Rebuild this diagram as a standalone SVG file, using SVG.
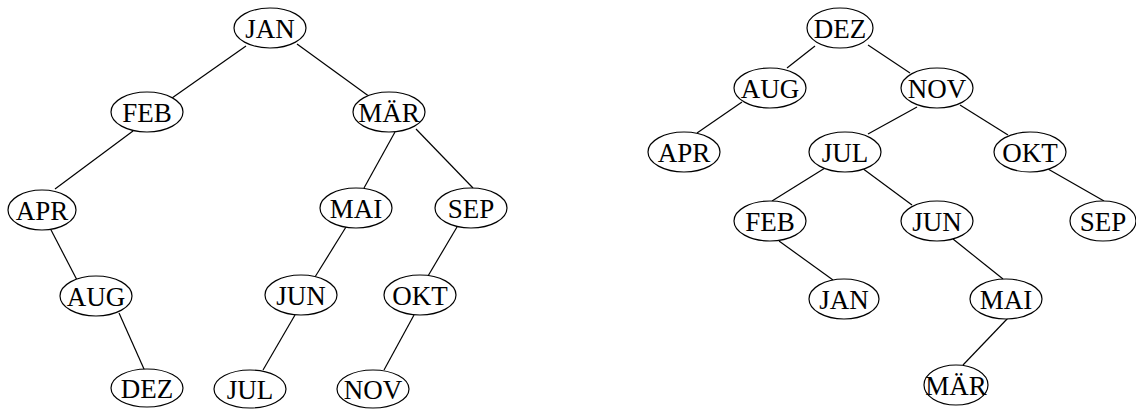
<svg xmlns="http://www.w3.org/2000/svg" width="1136" height="409" viewBox="0 0 1136 409">
<style>
.n ellipse{fill:#fff;stroke:#000;stroke-width:1.2}
.n text{font-family:"Liberation Serif","Times New Roman",serif;font-size:27px;text-anchor:middle;fill:#000}
#edges line{stroke:#000;stroke-width:1.2}
</style>
<rect width="1136" height="409" fill="#fff"/>
<g id="edges">
<line x1="246" y1="46" x2="172" y2="98"/>
<line x1="297" y1="44" x2="370" y2="97"/>
<line x1="133" y1="131" x2="55" y2="189"/>
<line x1="50" y1="228" x2="77" y2="280"/>
<line x1="119" y1="313" x2="148" y2="378"/>
<line x1="395" y1="132" x2="364" y2="188"/>
<line x1="416" y1="129" x2="473" y2="188"/>
<line x1="346" y1="227" x2="315" y2="277"/>
<line x1="457" y1="227" x2="428" y2="276"/>
<line x1="295" y1="315" x2="263" y2="370"/>
<line x1="414" y1="315" x2="384" y2="370"/>
<line x1="815" y1="46" x2="787" y2="68"/>
<line x1="868" y1="45" x2="910" y2="73"/>
<line x1="742" y1="102" x2="697" y2="133"/>
<line x1="917" y1="107" x2="868" y2="134"/>
<line x1="960" y1="105" x2="1008" y2="135"/>
<line x1="825" y1="168" x2="772" y2="201"/>
<line x1="862" y1="168" x2="912" y2="205"/>
<line x1="779" y1="241" x2="833" y2="280"/>
<line x1="953" y1="239" x2="1003" y2="279"/>
<line x1="1048" y1="169" x2="1104" y2="201"/>
<line x1="1008" y1="318" x2="963" y2="365"/>
</g>
<g id="L_JAN" class="n"><ellipse cx="270" cy="28" rx="36" ry="20"/><text x="270" y="38">JAN</text></g>
<g id="L_FEB" class="n"><ellipse cx="147" cy="112" rx="36" ry="20"/><text x="147" y="122">FEB</text></g>
<g id="L_MAR" class="n"><ellipse cx="389" cy="112" rx="36" ry="20"/><text x="389" y="122">MÄR</text></g>
<g id="L_APR" class="n"><ellipse cx="42" cy="210" rx="34" ry="20"/><text x="42" y="220">APR</text></g>
<g id="L_MAI" class="n"><ellipse cx="356" cy="208" rx="36" ry="20"/><text x="356" y="218">MAI</text></g>
<g id="L_SEP" class="n"><ellipse cx="471" cy="208" rx="36" ry="20"/><text x="471" y="218">SEP</text></g>
<g id="L_AUG" class="n"><ellipse cx="96" cy="296" rx="36" ry="20"/><text x="96" y="306">AUG</text></g>
<g id="L_JUN" class="n"><ellipse cx="301" cy="295" rx="36" ry="20"/><text x="301" y="305">JUN</text></g>
<g id="L_OKT" class="n"><ellipse cx="420" cy="295" rx="36" ry="20"/><text x="420" y="305">OKT</text></g>
<g id="L_DEZ" class="n"><ellipse cx="147" cy="388" rx="36" ry="19"/><text x="147" y="398">DEZ</text></g>
<g id="L_JUL" class="n"><ellipse cx="250" cy="389" rx="36" ry="19"/><text x="250" y="399">JUL</text></g>
<g id="L_NOV" class="n"><ellipse cx="373" cy="389" rx="36" ry="19"/><text x="373" y="399">NOV</text></g>
<g id="R_DEZ" class="n"><ellipse cx="840" cy="28" rx="33" ry="20"/><text x="840" y="38">DEZ</text></g>
<g id="R_AUG" class="n"><ellipse cx="770" cy="88" rx="36" ry="20"/><text x="770" y="98">AUG</text></g>
<g id="R_NOV" class="n"><ellipse cx="937" cy="88" rx="36" ry="20"/><text x="937" y="98">NOV</text></g>
<g id="R_APR" class="n"><ellipse cx="684" cy="152" rx="36" ry="20"/><text x="684" y="162">APR</text></g>
<g id="R_JUL" class="n"><ellipse cx="845" cy="152" rx="36" ry="20"/><text x="845" y="162">JUL</text></g>
<g id="R_OKT" class="n"><ellipse cx="1030" cy="152" rx="36" ry="20"/><text x="1030" y="162">OKT</text></g>
<g id="R_FEB" class="n"><ellipse cx="770" cy="221" rx="36" ry="20"/><text x="770" y="231">FEB</text></g>
<g id="R_JUN" class="n"><ellipse cx="937" cy="221" rx="36" ry="20"/><text x="937" y="231">JUN</text></g>
<g id="R_SEP" class="n"><ellipse cx="1103" cy="221" rx="33" ry="20"/><text x="1103" y="231">SEP</text></g>
<g id="R_JAN" class="n"><ellipse cx="844" cy="299" rx="35" ry="20"/><text x="844" y="309">JAN</text></g>
<g id="R_MAI" class="n"><ellipse cx="1006" cy="299" rx="36" ry="20"/><text x="1006" y="309">MAI</text></g>
<g id="R_MAR" class="n"><ellipse cx="956" cy="385" rx="32" ry="20"/><text x="956" y="395">MÄR</text></g>
</svg>
